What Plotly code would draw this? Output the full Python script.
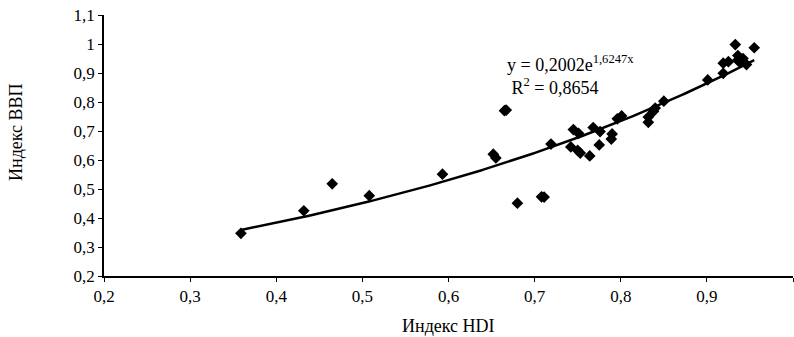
import numpy as np
import plotly.graph_objects as go

hdi = [0.359, 0.432, 0.465, 0.508, 0.593, 0.652, 0.655, 0.665, 0.667, 0.680,
       0.708, 0.711, 0.719, 0.745, 0.751, 0.742, 0.750, 0.753, 0.764, 0.768,
       0.776, 0.775, 0.790, 0.789, 0.796, 0.801, 0.832, 0.832, 0.838, 0.840,
       0.850, 0.901, 0.919, 0.919, 0.925, 0.933, 0.955, 0.936, 0.938, 0.942,
       0.946, 0.936]
gdp = [0.347, 0.425, 0.518, 0.477, 0.551, 0.620, 0.607, 0.770, 0.772, 0.451,
       0.473, 0.472, 0.655, 0.705, 0.692, 0.645, 0.633, 0.624, 0.614, 0.712,
       0.698, 0.652, 0.690, 0.672, 0.742, 0.752, 0.730, 0.748, 0.768, 0.779,
       0.803, 0.876, 0.899, 0.934, 0.939, 0.998, 0.987, 0.945, 0.937, 0.950,
       0.929, 0.960]

coef_a = 0.2002
coef_b = 1.6247
fit_x = np.linspace(min(hdi), max(hdi), 200)
fit_y = coef_a * np.exp(coef_b * fit_x)

xticks = [0.2, 0.3, 0.4, 0.5, 0.6, 0.7, 0.8, 0.9, 1.0]
yticks = [0.2, 0.3, 0.4, 0.5, 0.6, 0.7, 0.8, 0.9, 1.0, 1.1]

font = "Liberation Serif"
fs = 18
fs_tick = 17

fig = go.Figure()
fig.add_trace(go.Scatter(x=hdi, y=gdp, mode="markers",
                         marker=dict(symbol="diamond", size=9, color="black"),
                         showlegend=False))
fig.add_trace(go.Scatter(x=fit_x, y=fit_y, mode="lines",
                         line=dict(color="black", width=2.5),
                         showlegend=False))

W, H = 794, 337
ml, mr, mt, mb = 104, 1, 15, 61
pw, ph = W - ml - mr, H - mt - mb


def px_x(p):
    return (p - ml) / pw


def px_y(p):
    return 1 - (p - mt) / ph


fig.update_layout(
    width=W, height=H,
    margin=dict(l=ml, r=mr, t=mt, b=mb),
    paper_bgcolor="white", plot_bgcolor="white",
    separators=", ",
    font=dict(family=font, size=fs, color="black"),
    xaxis=dict(range=[0.2, 1.0], tickvals=xticks, ticks="outside", ticklen=4,
               tickwidth=1, tickcolor="black", showline=True, linecolor="black",
               linewidth=1.5, showgrid=False, zeroline=False,
               tickfont=dict(family=font, size=fs_tick)),
    yaxis=dict(range=[0.2, 1.1], tickvals=yticks, ticks="outside", ticklen=4,
               tickwidth=1, tickcolor="black", showline=True, linecolor="black",
               linewidth=1.5, showgrid=False, zeroline=False,
               tickfont=dict(family=font, size=fs_tick)),
    annotations=[
        dict(text="Индекс HDI", xref="paper", yref="paper", x=0.5,
             y=px_y(326), xanchor="center", yanchor="middle",
             showarrow=False, font=dict(family=font, size=fs)),
        dict(text="Индекс ВВП", xref="paper", yref="paper",
             x=px_x(16), y=px_y(132),
             xanchor="center", yanchor="middle", textangle=-90,
             showarrow=False, font=dict(family=font, size=fs)),
        dict(text="y = 0,2002e<sup>1,6247x</sup><br> R<sup>2</sup> = 0,8654",
             xref="paper", yref="paper", x=px_x(506), y=px_y(51),
             xanchor="left", yanchor="top", align="left", showarrow=False,
             borderpad=0, font=dict(family=font, size=fs)),
    ],
)

fig.write_html("out.html")
